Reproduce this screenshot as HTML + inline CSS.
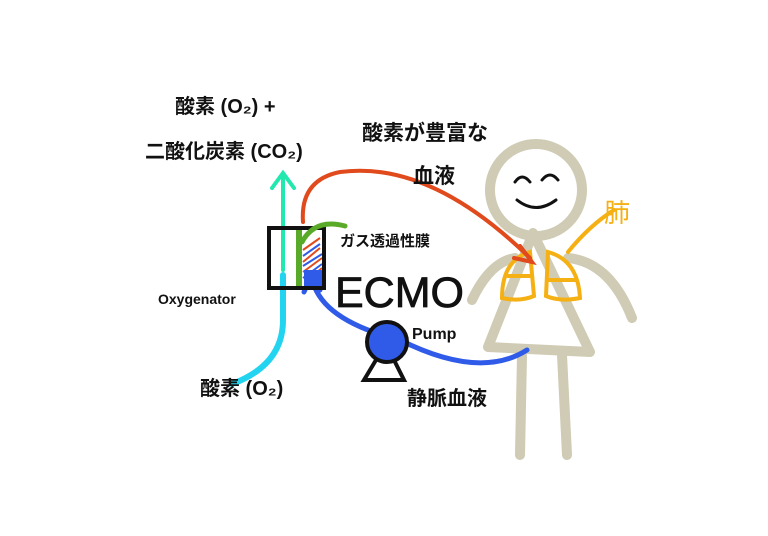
<!DOCTYPE html>
<html><head><meta charset="utf-8"><style>
html,body{margin:0;padding:0;background:#fff;}
svg{display:block}
text{font-family:"Liberation Sans","Noto Sans CJK JP",sans-serif;font-weight:bold;fill:#111}
</style></head><body>
<svg width="768" height="536" viewBox="0 0 768 536" xmlns="http://www.w3.org/2000/svg">
<rect width="768" height="536" fill="#fff"/>
<g stroke="#cfcbb4" stroke-width="10" fill="none" stroke-linecap="round" stroke-linejoin="round">
<circle cx="536" cy="190" r="46"/>
<path d="M533 233 L488 347 L590 352 Z"/>
<path d="M522 355 L520 455"/>
<path d="M562 355 L567 455"/>
<path d="M515 258 Q490 262 472 300"/>
<path d="M568 258 Q610 262 632 318"/>
</g>
<g stroke="#111" stroke-width="3" fill="none" stroke-linecap="round">
<path d="M515 182 Q522 172 530 182"/>
<path d="M542 180 Q550 170 558 180"/>
<path d="M517 200 Q536 215 556 200"/>
</g>
<g stroke="#f5b014" stroke-width="4" fill="none" stroke-linecap="round">
<path d="M530 252 Q502 260 502 298 Q520 302 534 296 Z"/>
<path d="M548 252 Q578 260 580 298 Q560 302 546 296 Z"/>
<path d="M508 276 L532 276 M548 280 L576 280"/>
<path d="M568 252 Q590 225 614 210"/>
</g>
<text x="604" y="222" font-size="26" style="fill:#f5b014;font-weight:normal">肺</text>
<g stroke="#e04a1c" stroke-width="4" fill="none" stroke-linecap="round">
<path d="M303 222 Q300 180 340 172 Q430 160 530 258"/>
<path d="M520 246 L532 262 L514 258"/>
</g>
<g stroke="#22d4f0" stroke-width="6" fill="none" stroke-linecap="round">
<path d="M232 384 Q283 365 283 320 L283 275"/>
</g>
<g stroke="#22e8b0" stroke-width="4" fill="none" stroke-linecap="round">
<path d="M283 270 L283 175"/>
<path d="M272 188 L283 173 L294 188"/>
</g>
<g stroke="#2f5be8" stroke-width="5" fill="none" stroke-linecap="round">
<path d="M527 350 Q480 380 400 340 Q320 320 312 278"/>
<path d="M304 292 L311 276 L320 290"/>
</g>
<rect x="292" y="234" width="30" height="50" fill="#fff"/>
<g stroke-width="2">
<path d="M303 250 L320 238 M303 262 L320 248 M303 272 L322 258 M305 282 L322 268" stroke="#e04a1c"/>
<path d="M303 256 L320 244 M303 266 L322 254 M303 278 L322 264" stroke="#2f5be8"/>
</g>
<rect x="304" y="270" width="18" height="16" fill="#2f5be8"/>
<rect x="296" y="228" width="6" height="60" fill="#5aaa2a"/>
<rect x="269" y="228" width="55" height="60" fill="none" stroke="#111" stroke-width="4"/>
<path d="M345 226 Q315 218 302 242" stroke="#5aaa2a" stroke-width="5" fill="none" stroke-linecap="round"/>
<circle cx="387" cy="342" r="20" fill="#2f5be8" stroke="#111" stroke-width="4"/>
<path d="M376 360 L364 380 L404 380 L394 360" stroke="#111" stroke-width="4" fill="none"/>
<text x="175" y="113" font-size="20">酸素 (O₂) +</text>
<text x="145" y="158" font-size="20">二酸化炭素 (CO₂)</text>
<text x="362" y="140" font-size="21">酸素が豊富な</text>
<text x="413" y="183" font-size="21">血液</text>
<text x="340" y="246" font-size="15">ガス透過性膜</text>
<text x="335" y="307" font-size="43" style="font-weight:normal;stroke:#111;stroke-width:0.8">ECMO</text>
<text x="158" y="304" font-size="14">Oxygenator</text>
<text x="412" y="339" font-size="16">Pump</text>
<text x="200" y="395" font-size="20">酸素 (O₂)</text>
<text x="407" y="405" font-size="20">静脈血液</text>
</svg>
</body></html>
